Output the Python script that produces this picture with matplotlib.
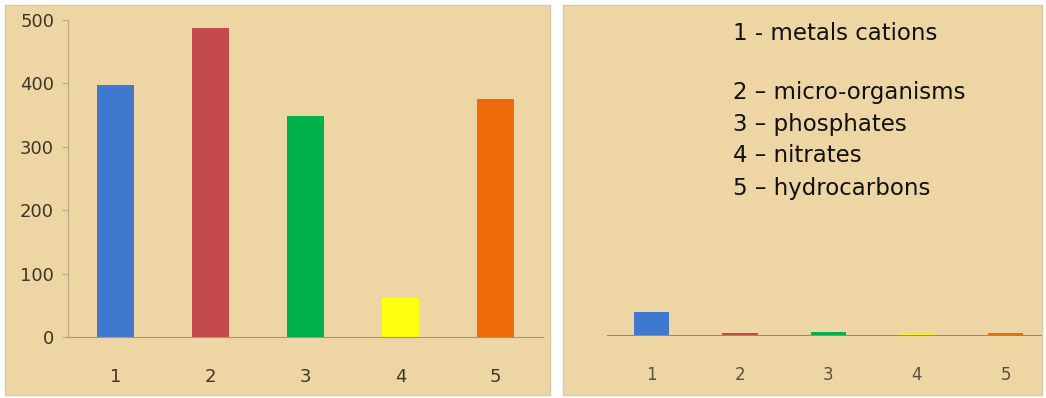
import numpy as np
import matplotlib
matplotlib.use("Agg")
import matplotlib.pyplot as plt
from matplotlib.patches import Rectangle

categories = ["1", "2", "3", "4", "5"]
values_left = [398, 488, 348, 62, 376]
values_right = [36, 3, 4, 1, 3]
bar_colors = ["#3F78CF", "#C44A4C", "#00B04A", "#FFFF10", "#EE6A0A"]
y_ticks = [0, 100, 200, 300, 400, 500]
legend_lines = ["1 - metals cations", "2 \u2013 micro-organisms", "3 \u2013 phosphates",
                "4 \u2013 nitrates", "5 \u2013 hydrocarbons"]

W, H = 1046, 398
paper = "#EDD6A4"
fig = plt.figure(figsize=(W / 100, H / 100), dpi=100)
fig.patch.set_facecolor("white")

# papyrus panels
for x0, x1 in [(5, 550), (563, 1042)]:
    fig.patches.append(Rectangle((x0 / W, 3 / H), (x1 - x0) / W, (H - 8) / H,
                                 transform=fig.transFigure, facecolor=paper,
                                 edgecolor="#d8c8a8", lw=1.0, zorder=-5))

x = np.arange(len(categories))

# left chart
ax1 = fig.add_axes([68 / W, 61 / H, 475 / W, 317 / H])
ax1.patch.set_alpha(0)
ax1.bar(x, values_left, width=0.39, color=bar_colors, zorder=2)
ax1.set_xlim(-0.5, 4.5)
ax1.set_ylim(0, 500)
ax1.set_yticks(y_ticks)
ax1.set_xticks(x, categories)
for s in ["top", "right"]:
    ax1.spines[s].set_visible(False)
ax1.spines["left"].set_color("#b8a888")
ax1.spines["bottom"].set_color("#a89870")
ax1.tick_params(axis="y", colors="#b8a888", labelcolor="#3e3626", labelsize=13,
                length=4, pad=6)
ax1.tick_params(axis="x", length=0, labelcolor="#3e3626", labelsize=13, pad=22)

# right chart
ax2 = fig.add_axes([607 / W, 63 / H, 434 / W, 315 / H])
ax2.patch.set_alpha(0)
ax2.bar(x, values_right, width=0.4, color=bar_colors, zorder=2)
ax2.set_xlim(-0.5, 4.4)
ax2.set_ylim(0, 500)
ax2.set_yticks([])
ax2.set_xticks(x, categories)
for s in ["top", "right", "left"]:
    ax2.spines[s].set_visible(False)
ax2.spines["bottom"].set_color("#a08860")
ax2.tick_params(axis="x", length=0, labelcolor="#5a5040", labelsize=12, pad=22)

# legend text
ys = [33, 92, 124, 156, 188]
for txt, yy in zip(legend_lines, ys):
    fig.text(733 / W, 1 - yy / H, txt, fontsize=16.5, color="#111111",
             va="center", ha="left")

fig.savefig("out.png", dpi=100, facecolor="white")
